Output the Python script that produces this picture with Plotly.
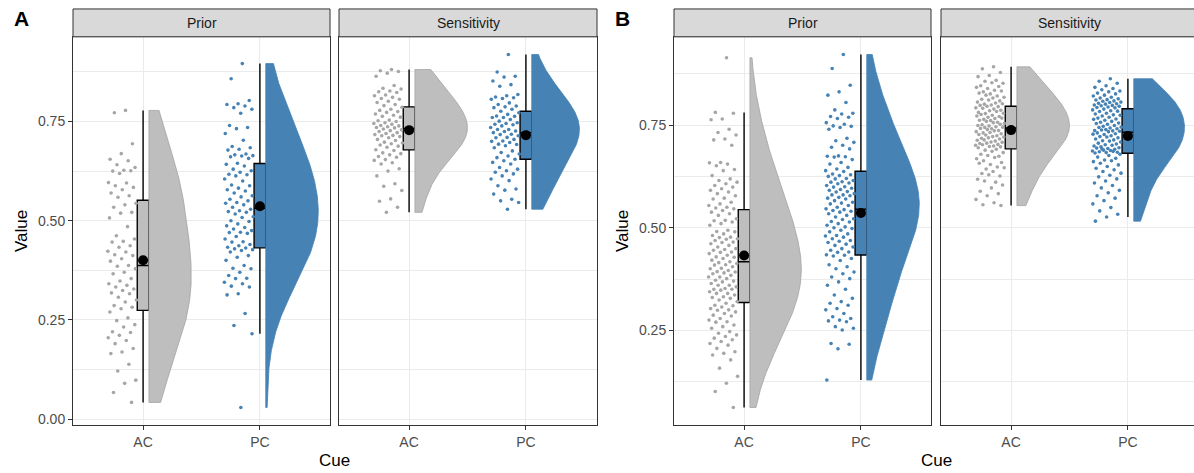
import numpy as np
import plotly.graph_objects as go

# ---------------- data ----------------
CUES = ["AC", "PC"]
FACETS = ["Prior", "Sensitivity"]
PANELS = ["A", "B"]

A_PRIOR_AC = [0.778, 0.772, 0.694, 0.669, 0.655, 0.651, 0.641, 0.634, 0.627, 0.625, 0.626, 0.619,
              0.596, 0.595, 0.588, 0.584, 0.578, 0.570, 0.563, 0.559, 0.544, 0.540, 0.534, 0.521,
              0.519, 0.507, 0.485, 0.462, 0.454, 0.448, 0.446, 0.437, 0.433, 0.423, 0.421, 0.414,
              0.412, 0.404, 0.398, 0.387, 0.385, 0.379, 0.370, 0.366, 0.354, 0.348, 0.341, 0.337,
              0.333, 0.328, 0.324, 0.318, 0.316, 0.307, 0.300, 0.295, 0.286, 0.282, 0.278, 0.270,
              0.255, 0.248, 0.238, 0.232, 0.220, 0.218, 0.211, 0.205, 0.198, 0.190, 0.178, 0.169,
              0.165, 0.138, 0.121, 0.098, 0.090, 0.067, 0.042]

A_PRIOR_PC = [0.896, 0.858, 0.803, 0.795, 0.793, 0.789, 0.785, 0.781, 0.771, 0.740, 0.735, 0.732,
              0.720, 0.703, 0.687, 0.684, 0.680, 0.678, 0.668, 0.666, 0.664, 0.663, 0.661, 0.657,
              0.645, 0.642, 0.638, 0.630, 0.626, 0.622, 0.617, 0.616, 0.613, 0.605, 0.600, 0.590,
              0.588, 0.582, 0.578, 0.575, 0.570, 0.563, 0.560, 0.554, 0.550, 0.546, 0.544, 0.540,
              0.534, 0.529, 0.525, 0.523, 0.521, 0.517, 0.510, 0.508, 0.500, 0.498, 0.492, 0.487,
              0.483, 0.479, 0.475, 0.471, 0.470, 0.468, 0.460, 0.454, 0.447, 0.446, 0.440, 0.437,
              0.433, 0.431, 0.429, 0.427, 0.425, 0.421, 0.412, 0.408, 0.400, 0.387, 0.380, 0.379,
              0.370, 0.362, 0.355, 0.354, 0.345, 0.341, 0.335, 0.333, 0.316, 0.313, 0.266, 0.236,
              0.215, 0.029]

A_SENS_AC = [0.881, 0.878, 0.876, 0.872, 0.864, 0.841, 0.834, 0.832, 0.827, 0.825, 0.823, 0.817,
             0.815, 0.811, 0.808, 0.806, 0.801, 0.798, 0.793, 0.790, 0.786, 0.781, 0.778, 0.775,
             0.773, 0.769, 0.766, 0.763, 0.761, 0.754, 0.752, 0.750, 0.747, 0.745, 0.743, 0.740,
             0.739, 0.737, 0.735, 0.734, 0.731, 0.729, 0.727, 0.725, 0.722, 0.720, 0.717, 0.715,
             0.714, 0.712, 0.709, 0.705, 0.702, 0.698, 0.696, 0.694, 0.691, 0.688, 0.685, 0.679,
             0.677, 0.671, 0.669, 0.666, 0.662, 0.660, 0.654, 0.652, 0.646, 0.643, 0.631, 0.625,
             0.613, 0.593, 0.587, 0.576, 0.555, 0.549, 0.534, 0.521]

A_SENS_PC = [0.919, 0.875, 0.864, 0.862, 0.852, 0.843, 0.839, 0.818, 0.815, 0.812, 0.810, 0.808,
             0.806, 0.797, 0.793, 0.789, 0.787, 0.785, 0.781, 0.776, 0.772, 0.768, 0.764, 0.763,
             0.760, 0.760, 0.755, 0.751, 0.747, 0.745, 0.743, 0.742, 0.739, 0.735, 0.730, 0.730,
             0.726, 0.725, 0.722, 0.718, 0.717, 0.714, 0.710, 0.709, 0.705, 0.701, 0.700, 0.697,
             0.693, 0.692, 0.689, 0.684, 0.676, 0.672, 0.668, 0.663, 0.659, 0.655, 0.651, 0.647,
             0.643, 0.634, 0.630, 0.626, 0.622, 0.618, 0.613, 0.605, 0.601, 0.588, 0.580, 0.577,
             0.567, 0.554, 0.550, 0.546, 0.529]

B_PRIOR_AC = [0.914, 0.781, 0.779, 0.765, 0.763, 0.740, 0.732, 0.726, 0.716, 0.714, 0.701, 0.659,
              0.658, 0.655, 0.651, 0.642, 0.639, 0.627, 0.619, 0.615, 0.611, 0.607, 0.603, 0.599,
              0.595, 0.591, 0.587, 0.583, 0.578, 0.572, 0.570, 0.562, 0.558, 0.554, 0.550, 0.548,
              0.546, 0.542, 0.538, 0.534, 0.530, 0.522, 0.518, 0.517, 0.514, 0.510, 0.506, 0.494,
              0.491, 0.490, 0.485, 0.481, 0.477, 0.476, 0.473, 0.472, 0.469, 0.465, 0.464, 0.461,
              0.457, 0.453, 0.449, 0.447, 0.445, 0.441, 0.440, 0.437, 0.433, 0.429, 0.428, 0.425,
              0.421, 0.417, 0.415, 0.413, 0.410, 0.409, 0.405, 0.401, 0.400, 0.396, 0.393, 0.392,
              0.390, 0.388, 0.384, 0.380, 0.380, 0.376, 0.372, 0.370, 0.368, 0.364, 0.360, 0.360,
              0.356, 0.352, 0.350, 0.350, 0.348, 0.344, 0.340, 0.340, 0.336, 0.332, 0.330, 0.328,
              0.324, 0.320, 0.316, 0.311, 0.310, 0.307, 0.303, 0.300, 0.299, 0.295, 0.291, 0.287,
              0.285, 0.279, 0.275, 0.271, 0.270, 0.263, 0.259, 0.255, 0.247, 0.243, 0.239, 0.235,
              0.231, 0.227, 0.223, 0.218, 0.214, 0.206, 0.198, 0.194, 0.190, 0.178, 0.158, 0.138,
              0.121, 0.101, 0.062]

B_PRIOR_PC = [0.922, 0.888, 0.847, 0.831, 0.823, 0.805, 0.787, 0.779, 0.777, 0.771, 0.769, 0.766,
              0.756, 0.752, 0.748, 0.747, 0.744, 0.740, 0.718, 0.712, 0.708, 0.701, 0.696, 0.692,
              0.675, 0.674, 0.673, 0.672, 0.666, 0.659, 0.655, 0.647, 0.643, 0.639, 0.637, 0.631,
              0.629, 0.627, 0.625, 0.620, 0.619, 0.615, 0.612, 0.611, 0.609, 0.607, 0.603, 0.600,
              0.599, 0.596, 0.593, 0.591, 0.588, 0.587, 0.583, 0.580, 0.580, 0.578, 0.574, 0.572,
              0.570, 0.566, 0.562, 0.560, 0.558, 0.554, 0.550, 0.546, 0.544, 0.542, 0.540, 0.538,
              0.534, 0.530, 0.526, 0.522, 0.520, 0.515, 0.514, 0.510, 0.506, 0.502, 0.500, 0.498,
              0.494, 0.490, 0.485, 0.481, 0.480, 0.477, 0.473, 0.469, 0.467, 0.464, 0.460, 0.457,
              0.453, 0.449, 0.445, 0.441, 0.440, 0.434, 0.433, 0.431, 0.425, 0.420, 0.410, 0.405,
              0.400, 0.392, 0.388, 0.380, 0.376, 0.368, 0.360, 0.350, 0.336, 0.328, 0.320, 0.316,
              0.311, 0.303, 0.300, 0.291, 0.283, 0.279, 0.275, 0.273, 0.271, 0.259, 0.255, 0.251,
              0.218, 0.216, 0.205, 0.129]

B_SENS_AC = [0.892, 0.887, 0.878, 0.871, 0.868, 0.859, 0.857, 0.852, 0.853, 0.846, 0.844, 0.839,
             0.842, 0.835, 0.831, 0.833, 0.826, 0.828, 0.821, 0.823, 0.818, 0.816, 0.813, 0.809,
             0.811, 0.806, 0.804, 0.801, 0.802, 0.799, 0.798, 0.795, 0.796, 0.792, 0.789, 0.791,
             0.786, 0.785, 0.781, 0.783, 0.778, 0.779, 0.774, 0.776, 0.771, 0.769, 0.772, 0.766,
             0.764, 0.767, 0.761, 0.762, 0.757, 0.759, 0.754, 0.756, 0.751, 0.752, 0.748, 0.749,
             0.746, 0.744, 0.745, 0.741, 0.742, 0.737, 0.739, 0.734, 0.736, 0.731, 0.729, 0.732,
             0.727, 0.724, 0.726, 0.721, 0.722, 0.718, 0.716, 0.719, 0.713, 0.711, 0.714, 0.708,
             0.709, 0.705, 0.703, 0.706, 0.701, 0.699, 0.702, 0.697, 0.698, 0.695, 0.691, 0.689,
             0.683, 0.686, 0.679, 0.674, 0.676, 0.668, 0.671, 0.663, 0.659, 0.654, 0.657, 0.648,
             0.643, 0.646, 0.637, 0.632, 0.626, 0.629, 0.618, 0.611, 0.614, 0.604, 0.597, 0.589,
             0.583, 0.578, 0.569, 0.561, 0.556, 0.554]

B_SENS_PC = [0.863, 0.857, 0.852, 0.846, 0.842, 0.839, 0.836, 0.833, 0.831, 0.828, 0.826, 0.823,
             0.821, 0.818, 0.816, 0.814, 0.812, 0.811, 0.809, 0.808, 0.806, 0.805, 0.803, 0.802,
             0.801, 0.799, 0.798, 0.797, 0.796, 0.794, 0.793, 0.792,
             0.789, 0.787, 0.785, 0.783, 0.784, 0.779, 0.777, 0.775, 0.772, 0.774, 0.769, 0.767,
             0.765, 0.762, 0.764, 0.759, 0.757, 0.755, 0.752, 0.754, 0.749, 0.747, 0.745, 0.743,
             0.744, 0.741, 0.739, 0.737, 0.736, 0.738, 0.735, 0.734, 0.731, 0.729, 0.727, 0.728,
             0.724, 0.722, 0.719, 0.721, 0.716, 0.714, 0.712, 0.709, 0.711, 0.706, 0.704, 0.702,
             0.699, 0.701, 0.697, 0.695, 0.693, 0.694, 0.691, 0.689, 0.687, 0.688, 0.685, 0.684,
             0.683, 0.682, 0.686, 0.692, 0.679, 0.676, 0.672, 0.669, 0.665, 0.661, 0.663, 0.657,
             0.653, 0.649, 0.645, 0.641, 0.637, 0.633, 0.628, 0.624, 0.619, 0.614, 0.609, 0.603,
             0.597, 0.591, 0.585, 0.578, 0.572, 0.566, 0.558, 0.549, 0.541, 0.533, 0.526, 0.516]

DATA = {
    ("A", "Prior"): {"AC": A_PRIOR_AC, "PC": A_PRIOR_PC},
    ("A", "Sensitivity"): {"AC": A_SENS_AC, "PC": A_SENS_PC},
    ("B", "Prior"): {"AC": B_PRIOR_AC, "PC": B_PRIOR_PC},
    ("B", "Sensitivity"): {"AC": B_SENS_AC, "PC": B_SENS_PC},
}

# ---------------- styling ----------------
FONT = "Liberation Sans, Arial, sans-serif"
W, H = 1194, 473
FILL = {"AC": "#BEBEBE", "PC": "#4682B4"}
PT_COL = {"AC": "#A6A6A6", "PC": "#4682B4"}
VLINE = {"AC": "#A3A3A3", "PC": "#4682B4"}
GRID = "#EBEBEB"
DARK = "#333333"
BW_ADJUST = 1.7

# facet pixel boxes (left, right) and vertical extent
FACET_PX = {("A", "Prior"): (73, 330), ("A", "Sensitivity"): (339, 597),
            ("B", "Prior"): (674, 931), ("B", "Sensitivity"): (941, 1198)}
TOP_PX, BOT_PX = 37, 427
STRIP_TOP_PX = 9
UNIT_PX = 257 / 2.2
XLO = 0.4


def nrd0(x):
    x = np.asarray(x, float)
    sd = x.std(ddof=1)
    q75, q25 = np.percentile(x, [75, 25])
    lo = min(sd, (q75 - q25) / 1.34)
    if lo <= 0:
        lo = sd
    return 0.9 * lo * len(x) ** -0.2


def kde(x, grid):
    x = np.asarray(x, float)
    bw = nrd0(x) * BW_ADJUST
    z = (grid[:, None] - x[None, :]) / bw
    return np.exp(-0.5 * z ** 2).sum(axis=1) / (len(x) * bw * np.sqrt(2 * np.pi))


def box_stats(v):
    v = np.sort(np.asarray(v, float))
    q1, med, q3 = np.percentile(v, [25, 50, 75])
    iqr = q3 - q1
    lf = v[v >= q1 - 1.5 * iqr].min()
    uf = v[v <= q3 + 1.5 * iqr].max()
    return q1, med, q3, lf, uf, v.mean()


fig = go.Figure()
layout = dict(width=W, height=H, margin=dict(l=0, r=0, t=0, b=0),
              paper_bgcolor="white", plot_bgcolor="white", showlegend=False,
              font=dict(family=FONT))
shapes, annotations = [], []

ydom = [1 - BOT_PX / H, 1 - TOP_PX / H]
PHI = 0.6180339887498949

# y ranges per panel (ggplot-style 5% expansion of data range)
YRANGE = {}
for p in PANELS:
    allv = np.concatenate([np.asarray(DATA[(p, f)][c]) for f in FACETS for c in CUES])
    lo, hi = allv.min(), allv.max()
    span = hi - lo
    YRANGE[p] = [lo - 0.05 * span, hi + 0.05 * span]

idx = 0
for p in PANELS:
    for fi, f in enumerate(FACETS):
        idx += 1
        sx = "" if idx == 1 else str(idx)
        xref, yref = "x" + sx, "y" + sx
        l_px, r_px = FACET_PX[(p, f)]
        dom_r = min(r_px, W) / W
        xhi = XLO + (min(r_px, W) - l_px) / UNIT_PX
        groups = DATA[(p, f)]
        grids, dens = {}, {}
        for c in CUES:
            v = np.asarray(groups[c], float)
            g = np.linspace(v.min(), v.max(), 512)
            grids[c] = g
            dens[c] = kde(v, g)
        dmax = max(d.max() for d in dens.values())
        for ci, c in enumerate(CUES):
            xc = ci + 1
            v = np.asarray(groups[c], float)
            # half violin
            base = xc + 0.05
            wv = dens[c] / dmax * 0.45
            vx = np.concatenate([base + wv, [base, base, base + wv[0]]])
            vy = np.concatenate([grids[c], [grids[c][-1], grids[c][0], grids[c][0]]])
            fig.add_trace(go.Scatter(x=vx, y=vy, mode="lines", fill="toself",
                                     fillcolor=FILL[c], line=dict(color=VLINE[c], width=0.8),
                                     xaxis=xref, yaxis=yref, hoverinfo="skip"))
            # jittered raw points
            n = len(v)
            jit = ((np.arange(1, n + 1) * PHI) % 1.0) * 2 - 1
            px = xc - 0.18 + 0.125 * jit
            fig.add_trace(go.Scatter(x=px, y=v, mode="markers",
                                     marker=dict(color=PT_COL[c], size=3.6, line=dict(width=0)),
                                     xaxis=xref, yaxis=yref, hoverinfo="skip"))
            # boxplot
            q1, med, q3, lf, uf, mean = box_stats(v)
            fig.add_trace(go.Box(x=[xc], q1=[q1], median=[med], q3=[q3],
                                 lowerfence=[lf], upperfence=[uf], width=0.1,
                                 fillcolor=FILL[c], line=dict(color="black", width=1.4),
                                 whiskerwidth=0, boxpoints=False,
                                 xaxis=xref, yaxis=yref, hoverinfo="skip"))
            # mean
            fig.add_trace(go.Scatter(x=[xc], y=[mean], mode="markers",
                                     marker=dict(color="black", size=10),
                                     xaxis=xref, yaxis=yref, hoverinfo="skip"))

        first = (fi == 0)
        is_edge = (r_px > W)
        layout["xaxis" + sx] = dict(
            domain=[l_px / W, dom_r], anchor=yref, range=[XLO, xhi],
            tickmode="array", tickvals=[1, 2], ticktext=CUES,
            showgrid=True, gridcolor=GRID, gridwidth=1, zeroline=False,
            ticks="outside", ticklen=4, tickcolor=DARK, tickwidth=1,
            showline=True, linecolor=DARK, linewidth=1, mirror=True,
            tickfont=dict(size=14, color="#4D4D4D", family=FONT), fixedrange=True)
        ya = dict(domain=ydom, anchor=xref, range=YRANGE[p],
                  tick0=0, dtick=0.25, tickformat=".2f",
                  showgrid=True, gridcolor=GRID, gridwidth=1, zeroline=False,
                  minor=dict(tick0=0, dtick=0.125, showgrid=True, gridcolor=GRID,
                             gridwidth=0.5, ticks=""),
                  showline=True, linecolor=DARK, linewidth=1, mirror=not is_edge,
                  fixedrange=True)
        if first:
            ya.update(ticks="outside", ticklen=4, tickcolor=DARK, tickwidth=1,
                      tickfont=dict(size=14, color="#4D4D4D", family=FONT))
        else:
            ya.update(showticklabels=False, ticks="", matches="y" + ("" if idx - 1 == 1 else str(idx - 1)))
        layout["yaxis" + sx] = ya

        # strip
        shapes.append(dict(type="rect", xref="paper", yref="paper",
                           x0=l_px / W, x1=r_px / W, y0=1 - TOP_PX / H, y1=1 - STRIP_TOP_PX / H,
                           fillcolor="#D9D9D9", line=dict(color=DARK, width=1), layer="above"))
        annotations.append(dict(text=f, xref="paper", yref="paper",
                                x=(l_px + r_px) / 2 / W, y=1 - (STRIP_TOP_PX + TOP_PX) / 2 / H,
                                showarrow=False, xanchor="center", yanchor="middle",
                                font=dict(size=14, color="#1A1A1A", family=FONT)))

# axis titles and panel tags
for p, yx, cx, tagx in [("A", 21, 335, 12), ("B", 622, 936, 613)]:
    annotations.append(dict(text="Value", xref="paper", yref="paper", x=yx / W,
                            y=1 - (TOP_PX + BOT_PX) / 2 / H, textangle=-90, showarrow=False,
                            xanchor="center", yanchor="middle",
                            font=dict(size=17, color="black", family=FONT)))
    annotations.append(dict(text="Cue", xref="paper", yref="paper", x=cx / W,
                            y=1 - 462 / H, showarrow=False, xanchor="center", yanchor="middle",
                            font=dict(size=17, color="black", family=FONT)))
    annotations.append(dict(text="<b>" + p + "</b>", xref="paper", yref="paper", x=tagx / W,
                            y=1 - 19 / H, showarrow=False, xanchor="left", yanchor="middle",
                            font=dict(size=21, color="black", family=FONT)))

layout["shapes"] = shapes
layout["annotations"] = annotations
fig.update_layout(**layout)
fig.write_html("out.html", config={"displayModeBar": False},
               post_script="document.body.style.margin='0';document.body.style.overflow='hidden';")
